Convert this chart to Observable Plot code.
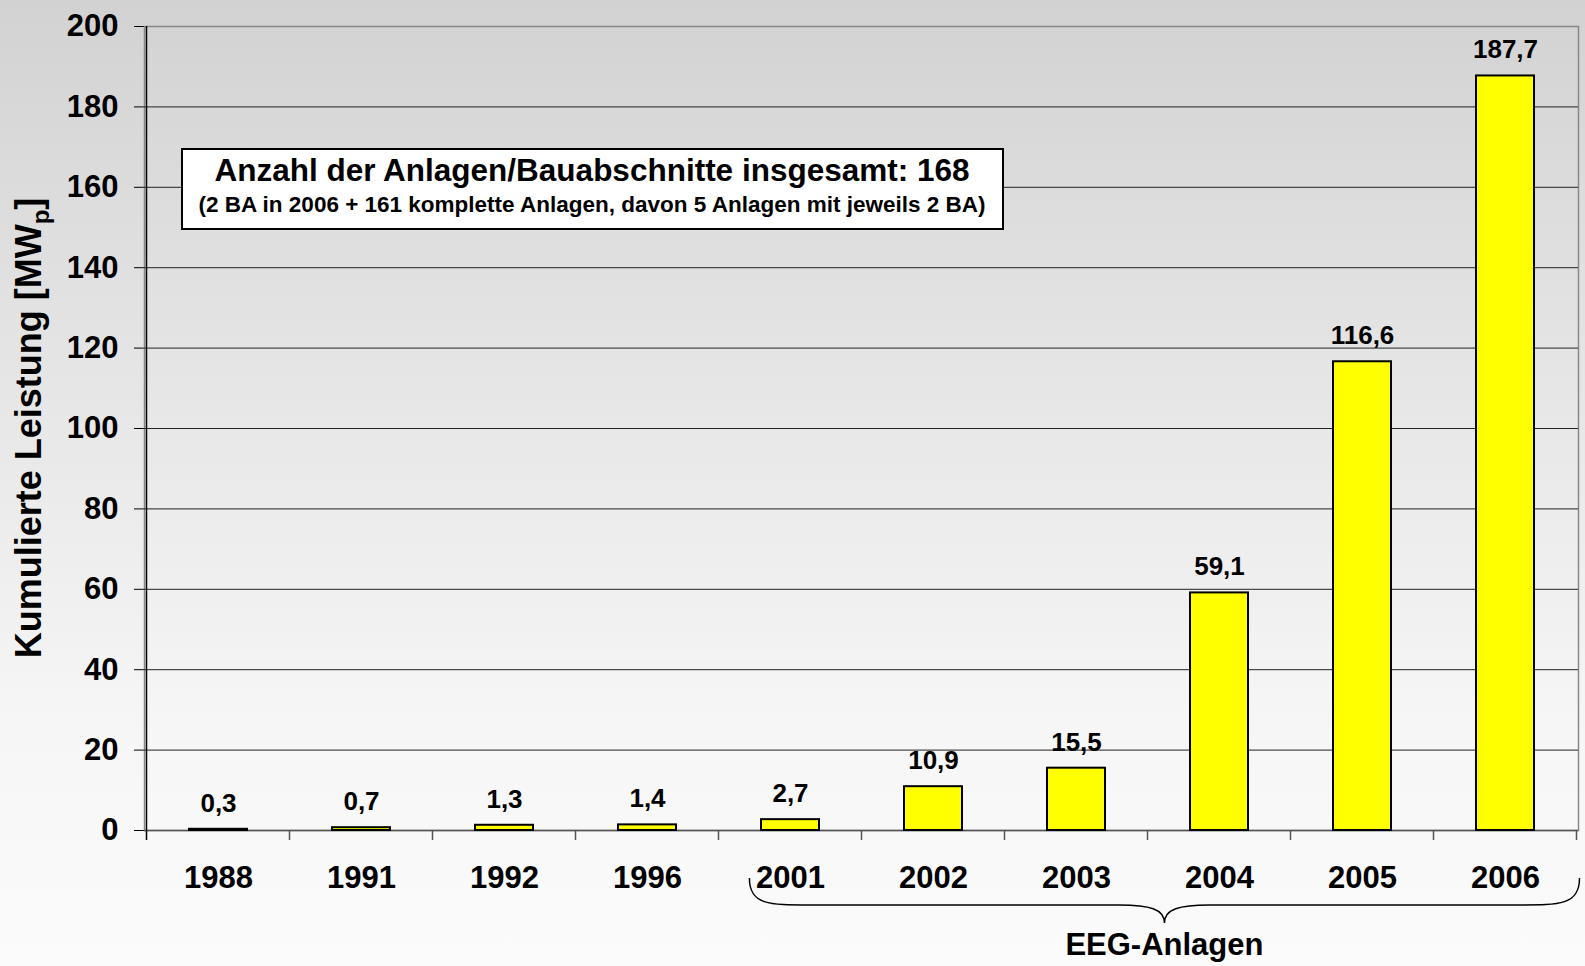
<!DOCTYPE html>
<html>
<head>
<meta charset="utf-8">
<script src="https://cdn.jsdelivr.net/npm/d3@7"></script>
<script src="https://cdn.jsdelivr.net/npm/@observablehq/plot@0.6"></script>
<style>
  html, body { margin: 0; padding: 0; background: #fafafa; }
  #chart svg { display: block; }
</style>
</head>
<body>
<div id="chart"></div>
<script>
// ---- data ----
const years = ["1988", "1991", "1992", "1996", "2001", "2002", "2003", "2004", "2005", "2006"];
const values = [0.3, 0.7, 1.3, 1.4, 2.7, 10.9, 15.5, 59.1, 116.6, 187.7];
const yTicks = [0, 20, 40, 60, 80, 100, 120, 140, 160, 180, 200];
const eegYears = ["2001", "2002", "2003", "2004", "2005", "2006"];
const boxTitle = "Anzahl der Anlagen/Bauabschnitte insgesamt: 168";
const boxSub = "(2 BA in 2006 + 161 komplette Anlagen, davon 5 Anlagen mit jeweils 2 BA)";
const yTitle = ["Kumulierte Leistung [MW", "p", "]"];
const braceLabel = "EEG-Anlagen";

const data = years.map((year, i) => ({year, value: values[i]}));
const fmt = v => String(v).replace(".", ",");
const FONT = "'Liberation Sans', Arial, sans-serif";

const chart = Plot.plot({
  width: 1585,
  height: 966,
  marginLeft: 144,
  marginRight: 7,
  marginTop: 26,
  marginBottom: 136,
  style: {fontFamily: FONT, fontWeight: "bold", fontSize: "31px", color: "#000", background: "transparent"},
  x: {domain: years, paddingInner: 0.5955, paddingOuter: 0.29775, tickSize: 0, tickPadding: 35, label: null},
  y: {domain: [0, 200], ticks: yTicks, tickSize: 10, tickPadding: 16, label: null},
  marks: [
    Plot.frame({stroke: "#888", strokeWidth: 1.5}),
    Plot.ruleY(yTicks.filter(d => d > 0 && d < 200), {stroke: "#222", strokeWidth: 1}),
    Plot.ruleY([0], {stroke: "#555", strokeWidth: 1.5}),
    Plot.barY(data, {x: "year", y: "value", fill: "#ffff00", stroke: "#000", strokeWidth: 2}),
    Plot.text(data, {x: "year", y: "value", text: d => fmt(d.value), dy: -26, fontSize: 26, fontWeight: "bold", fill: "#000"})
  ]
});

chart.style.background = "linear-gradient(to bottom, #d2d2d2 0%, #e6e6e6 40%, #f6f6f6 75%, #fbfbfb 100%)";
document.getElementById("chart").appendChild(chart);

// ---- annotations drawn with the chart's own scales ----
const svg = d3.select(chart);
const xs = chart.scale("x");
const ys = chart.scale("y");
const bw = xs.bandwidth;
const step = xs.step;
const gap = (step - bw) / 2;
const y0 = ys.apply(0);
const yTop = ys.apply(200);
const xLeft = xs.apply(years[0]) - gap;
const g = svg.append("g");

// left axis line
g.append("line").attr("x1", xLeft).attr("x2", xLeft).attr("y1", yTop).attr("y2", y0 + 10)
  .attr("stroke", "#000").attr("stroke-width", 1.5);
// category separator ticks
years.forEach(yv => {
  const bx = xs.apply(yv) + bw + gap;
  g.append("line").attr("x1", bx).attr("x2", bx).attr("y1", y0).attr("y2", y0 + 10)
    .attr("stroke", "#555").attr("stroke-width", 1.5);
});

// y axis title (rotated) with subscript
const cy = (yTop + y0) / 2;
const t = g.append("text")
  .attr("transform", `translate(41,${cy}) rotate(-90)`)
  .attr("text-anchor", "middle")
  .attr("font-family", FONT).attr("font-weight", "bold").attr("font-size", 36).attr("fill", "#000");
t.append("tspan").text(yTitle[0]);
t.append("tspan").attr("font-size", 24).attr("dy", 8).text(yTitle[1]);
t.append("tspan").attr("dy", -8).text(yTitle[2]);

// info box
const box = g.append("g");
box.append("rect").attr("x", 182).attr("y", 149).attr("width", 821).attr("height", 80)
  .attr("fill", "#fff").attr("stroke", "#000").attr("stroke-width", 2);
box.append("text").attr("x", 592).attr("y", 181).attr("text-anchor", "middle")
  .attr("font-family", FONT).attr("font-weight", "bold").attr("font-size", 31.5).attr("fill", "#000").text(boxTitle);
box.append("text").attr("x", 592).attr("y", 212).attr("text-anchor", "middle")
  .attr("font-family", FONT).attr("font-weight", "bold").attr("font-size", 22.5).attr("fill", "#000").text(boxSub);

// brace under the EEG years
const bL = xs.apply(eegYears[0]) - 0.2 * bw;
const bR = xs.apply(eegYears[eegYears.length - 1]) + bw + gap + 3;
const bM = (bL + bR) / 2;
const by0 = y0 + 48, by1 = y0 + 75, by2 = y0 + 93;
const bracePath = `M${bL},${by0} C${bL},${by1} ${bL + 20},${by1} ${bL + 60},${by1}
  L${bM - 45},${by1} C${bM - 15},${by1} ${bM},${by1 + 4} ${bM},${by2}
  C${bM},${by1 + 4} ${bM + 15},${by1} ${bM + 45},${by1}
  L${bR - 60},${by1} C${bR - 20},${by1} ${bR},${by1} ${bR},${by0}`;
g.append("path").attr("d", bracePath).attr("fill", "none").attr("stroke", "#000").attr("stroke-width", 1.5);
g.append("text").attr("x", bM).attr("y", y0 + 125).attr("text-anchor", "middle")
  .attr("font-family", FONT).attr("font-weight", "bold").attr("font-size", 31).attr("fill", "#000").text(braceLabel);
</script>
</body>
</html>
